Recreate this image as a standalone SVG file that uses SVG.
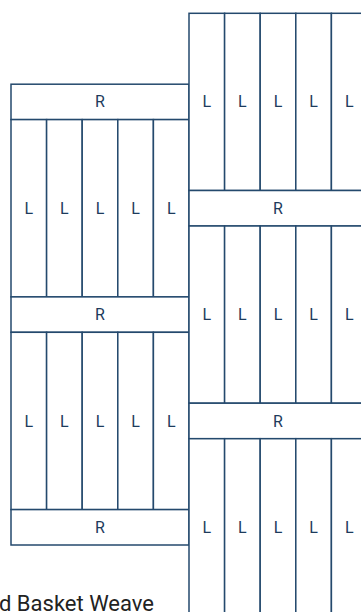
<svg xmlns="http://www.w3.org/2000/svg" width="361" height="612" viewBox="0 0 361 612">
<style>
.t{fill:#ffffff;stroke:#24496d;stroke-width:1.5}
.lb{font-family:Roboto,"Liberation Sans",sans-serif;font-size:16px;fill:#1d3b5c;text-anchor:middle;dominant-baseline:central}
.cap{font-family:Roboto,"Liberation Sans",sans-serif;font-size:22px;fill:#222222}
</style>
<rect width="361" height="612" fill="#ffffff"/>
<g id="left-column">
<g id="lR1"><rect class="t" x="11" y="84.2" width="178" height="35.4"/><text class="lb" x="100" y="101.9">R</text></g>
<g id="lL1a"><rect class="t" x="11" y="119.6" width="35.6" height="177.3"/><text class="lb" x="28.8" y="208.3">L</text></g>
<g id="lL1b"><rect class="t" x="46.6" y="119.6" width="35.6" height="177.3"/><text class="lb" x="64.4" y="208.3">L</text></g>
<g id="lL1c"><rect class="t" x="82.2" y="119.6" width="35.6" height="177.3"/><text class="lb" x="100" y="208.3">L</text></g>
<g id="lL1d"><rect class="t" x="117.8" y="119.6" width="35.6" height="177.3"/><text class="lb" x="135.6" y="208.3">L</text></g>
<g id="lL1e"><rect class="t" x="153.4" y="119.6" width="35.6" height="177.3"/><text class="lb" x="171.2" y="208.3">L</text></g>
<g id="lR2"><rect class="t" x="11" y="296.9" width="178" height="35.4"/><text class="lb" x="100" y="314.6">R</text></g>
<g id="lL2a"><rect class="t" x="11" y="332.3" width="35.6" height="177.3"/><text class="lb" x="28.8" y="421">L</text></g>
<g id="lL2b"><rect class="t" x="46.6" y="332.3" width="35.6" height="177.3"/><text class="lb" x="64.4" y="421">L</text></g>
<g id="lL2c"><rect class="t" x="82.2" y="332.3" width="35.6" height="177.3"/><text class="lb" x="100" y="421">L</text></g>
<g id="lL2d"><rect class="t" x="117.8" y="332.3" width="35.6" height="177.3"/><text class="lb" x="135.6" y="421">L</text></g>
<g id="lL2e"><rect class="t" x="153.4" y="332.3" width="35.6" height="177.3"/><text class="lb" x="171.2" y="421">L</text></g>
<g id="lR3"><rect class="t" x="11" y="509.6" width="178" height="35.4"/><text class="lb" x="100" y="527.3">R</text></g>
</g>
<g id="right-column">
<g id="rL1a"><rect class="t" x="189" y="13.3" width="35.6" height="177.2"/><text class="lb" x="206.8" y="101.9">L</text></g>
<g id="rL1b"><rect class="t" x="224.6" y="13.3" width="35.6" height="177.2"/><text class="lb" x="242.4" y="101.9">L</text></g>
<g id="rL1c"><rect class="t" x="260.2" y="13.3" width="35.6" height="177.2"/><text class="lb" x="278" y="101.9">L</text></g>
<g id="rL1d"><rect class="t" x="295.8" y="13.3" width="35.6" height="177.2"/><text class="lb" x="313.6" y="101.9">L</text></g>
<g id="rL1e"><rect class="t" x="331.4" y="13.3" width="35.6" height="177.2"/><text class="lb" x="349.2" y="101.9">L</text></g>
<g id="rR1"><rect class="t" x="189" y="190.5" width="178" height="35.5"/><text class="lb" x="278" y="208.3">R</text></g>
<g id="rL2a"><rect class="t" x="189" y="226" width="35.6" height="177.2"/><text class="lb" x="206.8" y="314.6">L</text></g>
<g id="rL2b"><rect class="t" x="224.6" y="226" width="35.6" height="177.2"/><text class="lb" x="242.4" y="314.6">L</text></g>
<g id="rL2c"><rect class="t" x="260.2" y="226" width="35.6" height="177.2"/><text class="lb" x="278" y="314.6">L</text></g>
<g id="rL2d"><rect class="t" x="295.8" y="226" width="35.6" height="177.2"/><text class="lb" x="313.6" y="314.6">L</text></g>
<g id="rL2e"><rect class="t" x="331.4" y="226" width="35.6" height="177.2"/><text class="lb" x="349.2" y="314.6">L</text></g>
<g id="rR2"><rect class="t" x="189" y="403.2" width="178" height="35.5"/><text class="lb" x="278" y="421">R</text></g>
<g id="rL3a"><rect class="t" x="189" y="438.7" width="35.6" height="177.3"/><text class="lb" x="206.8" y="527.3">L</text></g>
<g id="rL3b"><rect class="t" x="224.6" y="438.7" width="35.6" height="177.3"/><text class="lb" x="242.4" y="527.3">L</text></g>
<g id="rL3c"><rect class="t" x="260.2" y="438.7" width="35.6" height="177.3"/><text class="lb" x="278" y="527.3">L</text></g>
<g id="rL3d"><rect class="t" x="295.8" y="438.7" width="35.6" height="177.3"/><text class="lb" x="313.6" y="527.3">L</text></g>
<g id="rL3e"><rect class="t" x="331.4" y="438.7" width="35.6" height="177.3"/><text class="lb" x="349.2" y="527.3">L</text></g>
</g>
<g id="connectors"/>
<text class="cap" x="-1" y="611">d Basket Weave</text>
</svg>
